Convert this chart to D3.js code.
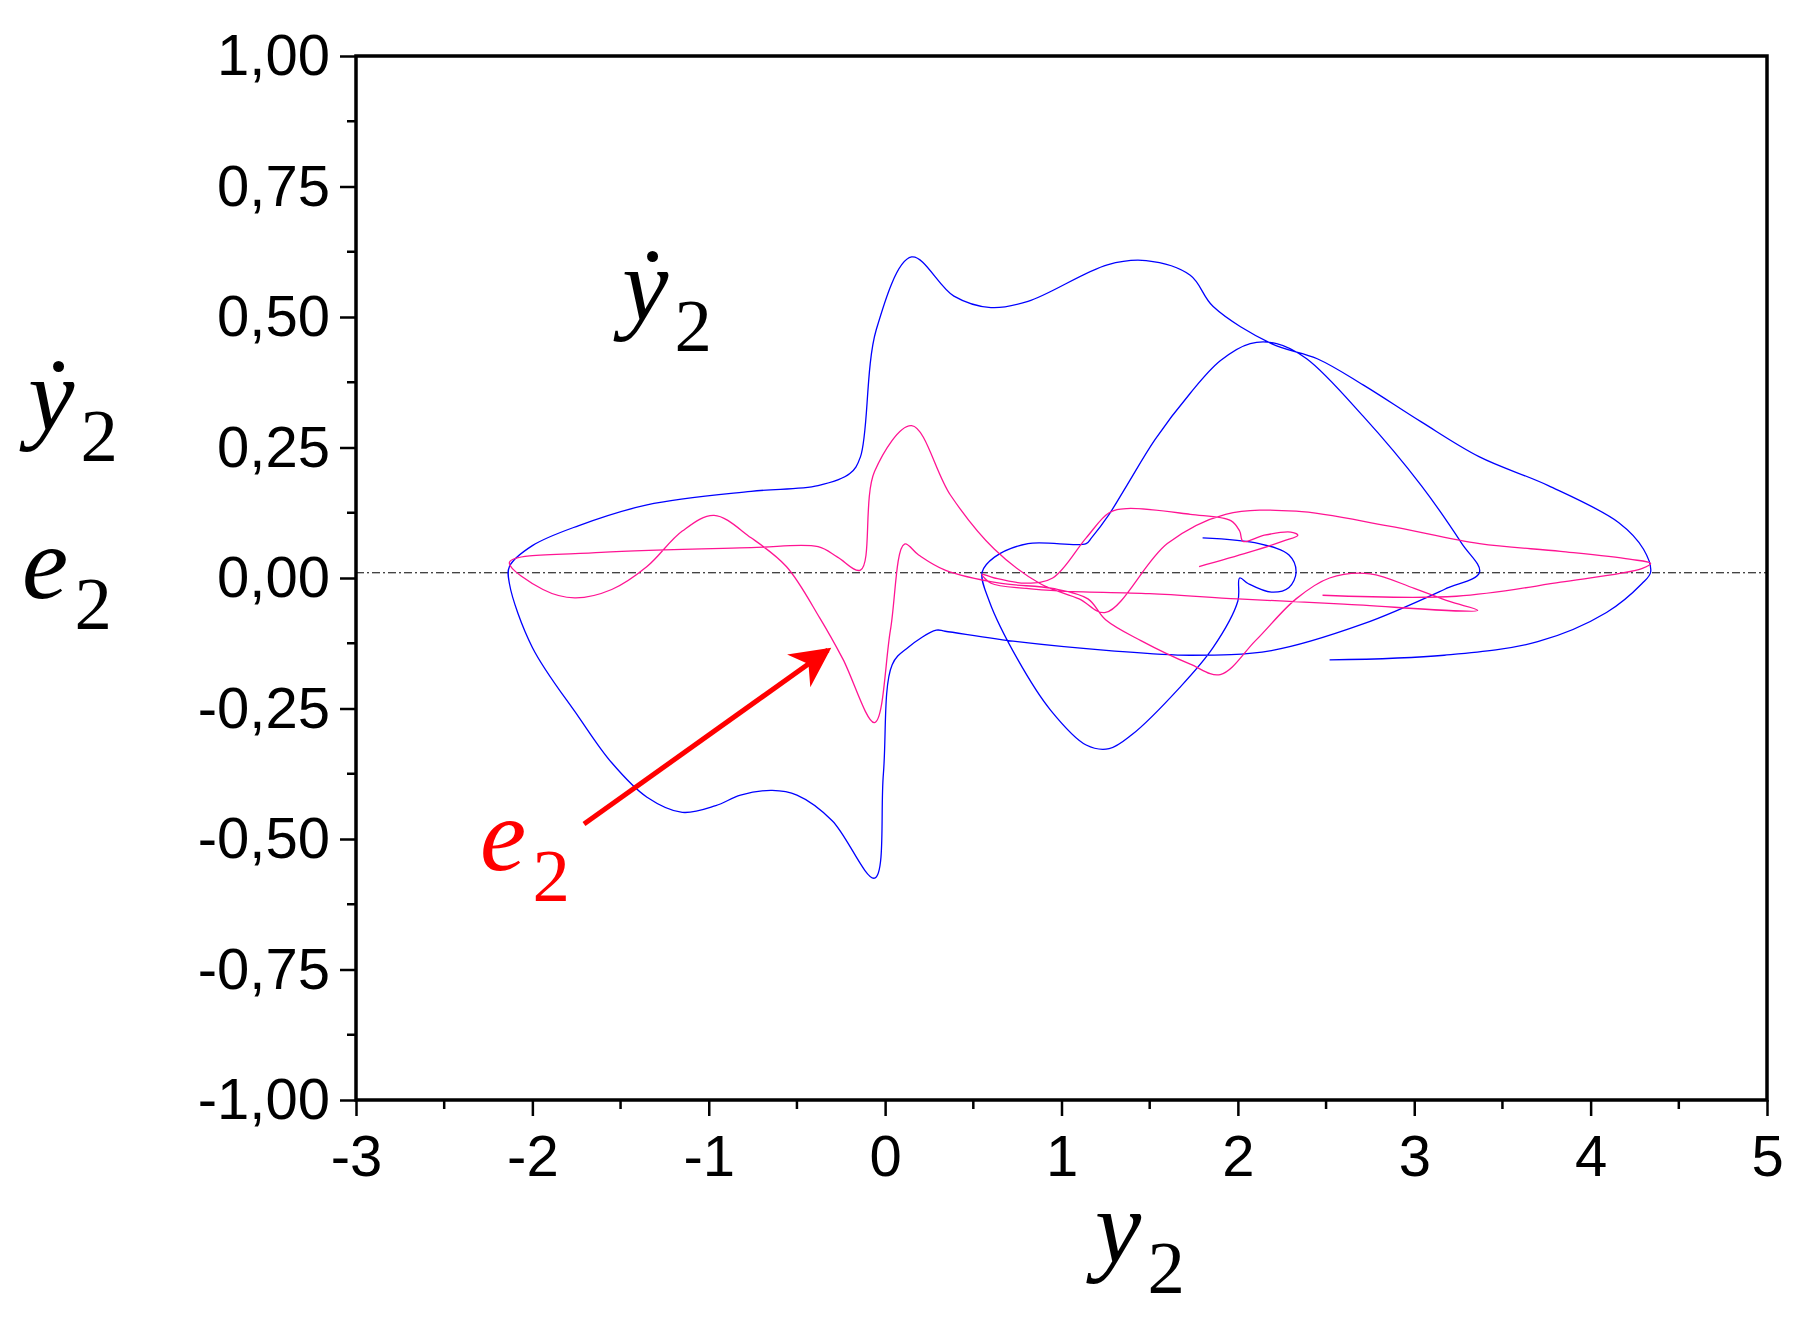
<!DOCTYPE html>
<html><head><meta charset="utf-8">
<script src="https://cdn.jsdelivr.net/npm/d3@7"></script>
<style>body{margin:0;background:#fff}svg{display:block}</style>
</head><body>
<script>
const xTicks=[-3,-2,-1,0,1,2,3,4,5];
const xTickLabels=["-3","-2","-1","0","1","2","3","4","5"];
const yTicks=[-1,-0.75,-0.5,-0.25,0,0.25,0.5,0.75,1];
const yTickLabels=["-1,00","-0,75","-0,50","-0,25","0,00","0,25","0,50","0,75","1,00"];
const refLineY=0.01;
const blueX=[2.52,3.17,3.70,4.09,4.29,4.34,4.30,4.16,3.76,3.37,3.04,2.71,2.45,2.19,1.86,1.73,1.48,1.26,0.81,0.60,0.39,0.15,-0.05,-0.14,-0.20,-0.38,-0.76,-1.35,-1.74,-2.00,-2.13,-2.13,-2.00,-1.74,-1.55,-1.35,-1.15,-0.96,-0.82,-0.64,-0.50,-0.30,-0.06,-0.01,0.04,0.13,0.29,0.34,0.75,1.27,1.73,2.19,2.71,3.17,3.37,3.27,3.04,2.71,2.39,2.22,2.07,1.90,1.73,1.53,1.37,1.27,1.17,1.14,0.81,0.62,0.55,0.59,0.75,0.94,1.14,1.27,1.40,1.67,1.86,2.00,2.01,2.06,2.19,2.29,2.33,2.29,2.12,1.80];
const blueY=[-0.157,-0.148,-0.122,-0.066,-0.011,0.011,0.055,0.106,0.177,0.232,0.299,0.370,0.420,0.449,0.520,0.580,0.608,0.600,0.530,0.518,0.540,0.615,0.476,0.232,0.200,0.177,0.166,0.140,0.100,0.062,0.022,-0.011,-0.133,-0.265,-0.354,-0.420,-0.449,-0.436,-0.416,-0.407,-0.416,-0.465,-0.575,-0.376,-0.166,-0.133,-0.100,-0.102,-0.122,-0.139,-0.148,-0.139,-0.088,-0.022,0.011,0.066,0.177,0.310,0.420,0.449,0.449,0.416,0.354,0.265,0.177,0.122,0.077,0.066,0.066,0.040,0.011,-0.044,-0.155,-0.254,-0.320,-0.327,-0.300,-0.210,-0.133,-0.044,0.000,-0.011,-0.027,-0.018,0.011,0.044,0.066,0.077];
const pinkX=[1.78,2.06,2.26,2.34,2.30,2.15,2.03,2.01,1.96,1.73,1.37,1.27,1.14,0.95,0.80,0.62,0.55,0.60,0.80,1.00,1.50,2.00,2.60,3.36,3.20,3.00,2.75,2.52,2.33,2.10,1.90,1.73,1.45,1.25,1.15,0.95,0.65,0.34,0.19,0.11,0.03,-0.06,-0.24,-0.37,-0.56,-0.76,-0.97,-1.15,-1.35,-1.55,-1.76,-1.94,-2.13,-1.61,-0.76,-0.38,-0.27,-0.14,-0.06,0.15,0.37,0.62,0.88,1.10,1.25,1.60,1.93,2.33,2.85,3.37,3.83,4.22,4.34,4.29,3.83,3.24,2.48];
const pinkY=[0.022,0.049,0.071,0.082,0.088,0.082,0.070,0.090,0.110,0.122,0.133,0.125,0.077,0.000,-0.010,0.000,0.007,-0.010,-0.020,-0.025,-0.030,-0.040,-0.050,-0.062,-0.045,-0.020,0.008,0.000,-0.040,-0.120,-0.185,-0.165,-0.120,-0.080,-0.040,-0.020,-0.010,0.015,0.044,0.065,-0.100,-0.277,-0.155,-0.077,0.022,0.077,0.120,0.090,0.022,-0.022,-0.038,-0.022,0.030,0.049,0.058,0.060,0.040,0.015,0.204,0.292,0.159,0.055,-0.011,-0.040,-0.066,0.066,0.122,0.128,0.100,0.066,0.051,0.036,0.028,0.018,-0.008,-0.035,-0.033];

const W=1811,H=1332,L=356,R=1767,T=56,B=1100;
const svg=d3.select("body").append("svg").attr("width",W).attr("height",H);
const x=d3.scaleLinear().domain([-3,5]).range([L,R]);
const y=d3.scaleLinear().domain([-1,1]).range([B,T]);
const line=d3.line().x(d=>x(d[0])).y(d=>y(d[1])).curve(d3.curveCatmullRom.alpha(0.5));

const g=svg.append("g");
g.append("line").attr("x1",L).attr("x2",R).attr("y1",y(refLineY)).attr("y2",y(refLineY))
 .attr("stroke","#000").attr("stroke-width",1).attr("stroke-dasharray","8,3,2,3");
g.append("path").datum(blueX.map((v,i)=>[v,blueY[i]])).attr("d",line)
 .attr("fill","none").attr("stroke","#0000ff").attr("stroke-width",1.3);
g.append("path").datum(pinkX.map((v,i)=>[v,pinkY[i]])).attr("d",line)
 .attr("fill","none").attr("stroke","#ff1493").attr("stroke-width",1.3);

const xa=svg.append("g").attr("transform",`translate(0,${B})`)
 .call(d3.axisBottom(x).tickValues(xTicks).tickSize(16).tickPadding(8).tickFormat((d,i)=>xTickLabels[i]));
const ya=svg.append("g").attr("transform",`translate(${L},0)`)
 .call(d3.axisLeft(y).tickValues(yTicks).tickSize(16).tickPadding(10).tickFormat((d,i)=>yTickLabels[i]));
[xa,ya].forEach(a=>{a.selectAll("path").remove();a.selectAll("line").attr("stroke-width",2.5);
 a.selectAll("text").attr("font-family","'Liberation Sans', Arial").attr("font-size",58).attr("fill","#000");});
xa.selectAll("text").attr("dy","0.9em");
const xMinor=d3.range(-2.5,5,1), yMinor=d3.range(-0.875,1,0.25);
svg.append("g").selectAll("line").data(xMinor).join("line").attr("x1",d=>x(d)).attr("x2",d=>x(d))
 .attr("y1",B).attr("y2",B+9).attr("stroke","#000").attr("stroke-width",2.5);
svg.append("g").selectAll("line").data(yMinor).join("line").attr("y1",d=>y(d)).attr("y2",d=>y(d))
 .attr("x1",L).attr("x2",L-9).attr("stroke","#000").attr("stroke-width",2.5);
svg.append("rect").attr("x",L).attr("y",T).attr("width",R-L).attr("height",B-T)
 .attr("fill","none").attr("stroke","#000").attr("stroke-width",3.5);

function lbl(px,py,main,color,size){
 const t=svg.append("text").attr("x",px).attr("y",py).attr("font-family","'Liberation Serif', 'Times New Roman', serif")
  .attr("font-size",size).attr("fill",color);
 t.append("tspan").attr("font-style","italic").text(main);
 t.append("tspan").attr("font-size",size*0.72).attr("dy",size*0.3).attr("dx",size*0.06).text("2");
}
lbl(1095,1262,"y","#000",104);
lbl(28,430,"ẏ","#000",104);
lbl(22,598,"e","#000",104);
lbl(622,320,"ẏ","#000",104);
lbl(480,870,"e","#ff0000",104);

svg.append("defs").append("marker").attr("id","ah").attr("viewBox","0 0 10 10").attr("refX",9).attr("refY",5)
 .attr("markerWidth",50).attr("markerHeight",40).attr("markerUnits","userSpaceOnUse").attr("orient","auto")
 .append("path").attr("d","M0,0 L10,5 L0,10 L3,5 Z").attr("fill","#ff0000");
svg.append("line").attr("x1",584).attr("y1",824).attr("x2",828).attr("y2",650)
 .attr("stroke","#ff0000").attr("stroke-width",5).attr("marker-end","url(#ah)");
</script>
</body></html>
